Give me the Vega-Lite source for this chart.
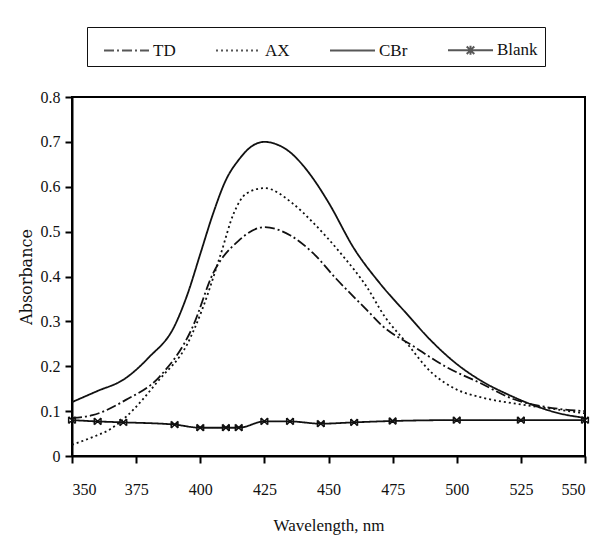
{
  "$schema": "https://vega.github.io/schema/vega-lite/v6.json",
  "width": 513,
  "height": 359,
  "autosize": {"type": "none"},
  "padding": {"left": 72, "top": 97, "right": 17, "bottom": 81},
  "background": "white",
  "config": {
    "font": "Liberation Serif",
    "view": {"stroke": "black", "strokeWidth": 2},
    "axis": {"grid": false, "ticks": true, "domainColor": "black", "domainWidth": 2, "tickColor": "black", "tickWidth": 2, "labelColor": "#111", "titleColor": "#111", "labelFont": "Liberation Serif", "titleFont": "Liberation Serif", "labelFontWeight": "normal", "titleFontWeight": "normal"},
    "legend": {"symbolSize": 900}
  },
  "data": {"values": [
    {"wavelength": 350, "absorbance": 0.12, "series": "CBr"},
    {"wavelength": 360, "absorbance": 0.145, "series": "CBr"},
    {"wavelength": 370, "absorbance": 0.17, "series": "CBr"},
    {"wavelength": 380, "absorbance": 0.22, "series": "CBr"},
    {"wavelength": 390, "absorbance": 0.29, "series": "CBr"},
    {"wavelength": 395, "absorbance": 0.36, "series": "CBr"},
    {"wavelength": 400, "absorbance": 0.45, "series": "CBr"},
    {"wavelength": 405, "absorbance": 0.54, "series": "CBr"},
    {"wavelength": 410, "absorbance": 0.615, "series": "CBr"},
    {"wavelength": 415, "absorbance": 0.66, "series": "CBr"},
    {"wavelength": 420, "absorbance": 0.69, "series": "CBr"},
    {"wavelength": 425, "absorbance": 0.70, "series": "CBr"},
    {"wavelength": 430, "absorbance": 0.694, "series": "CBr"},
    {"wavelength": 435, "absorbance": 0.677, "series": "CBr"},
    {"wavelength": 440, "absorbance": 0.648, "series": "CBr"},
    {"wavelength": 445, "absorbance": 0.61, "series": "CBr"},
    {"wavelength": 450, "absorbance": 0.565, "series": "CBr"},
    {"wavelength": 460, "absorbance": 0.462, "series": "CBr"},
    {"wavelength": 470, "absorbance": 0.385, "series": "CBr"},
    {"wavelength": 480, "absorbance": 0.32, "series": "CBr"},
    {"wavelength": 490, "absorbance": 0.257, "series": "CBr"},
    {"wavelength": 500, "absorbance": 0.205, "series": "CBr"},
    {"wavelength": 510, "absorbance": 0.166, "series": "CBr"},
    {"wavelength": 520, "absorbance": 0.137, "series": "CBr"},
    {"wavelength": 530, "absorbance": 0.113, "series": "CBr"},
    {"wavelength": 540, "absorbance": 0.095, "series": "CBr"},
    {"wavelength": 550, "absorbance": 0.085, "series": "CBr"},

    {"wavelength": 350, "absorbance": 0.025, "series": "AX"},
    {"wavelength": 358, "absorbance": 0.042, "series": "AX"},
    {"wavelength": 365, "absorbance": 0.06, "series": "AX"},
    {"wavelength": 371, "absorbance": 0.087, "series": "AX"},
    {"wavelength": 384, "absorbance": 0.17, "series": "AX"},
    {"wavelength": 395, "absorbance": 0.25, "series": "AX"},
    {"wavelength": 401, "absorbance": 0.33, "series": "AX"},
    {"wavelength": 408, "absorbance": 0.45, "series": "AX"},
    {"wavelength": 413, "absorbance": 0.54, "series": "AX"},
    {"wavelength": 418, "absorbance": 0.585, "series": "AX"},
    {"wavelength": 425, "absorbance": 0.597, "series": "AX"},
    {"wavelength": 436, "absorbance": 0.563, "series": "AX"},
    {"wavelength": 444, "absorbance": 0.52, "series": "AX"},
    {"wavelength": 455, "absorbance": 0.45, "series": "AX"},
    {"wavelength": 465, "absorbance": 0.376, "series": "AX"},
    {"wavelength": 472, "absorbance": 0.31, "series": "AX"},
    {"wavelength": 480, "absorbance": 0.255, "series": "AX"},
    {"wavelength": 490, "absorbance": 0.187, "series": "AX"},
    {"wavelength": 500, "absorbance": 0.148, "series": "AX"},
    {"wavelength": 510, "absorbance": 0.13, "series": "AX"},
    {"wavelength": 525, "absorbance": 0.115, "series": "AX"},
    {"wavelength": 540, "absorbance": 0.103, "series": "AX"},
    {"wavelength": 550, "absorbance": 0.095, "series": "AX"},

    {"wavelength": 350, "absorbance": 0.085, "series": "TD"},
    {"wavelength": 358, "absorbance": 0.091, "series": "TD"},
    {"wavelength": 371, "absorbance": 0.125, "series": "TD"},
    {"wavelength": 384, "absorbance": 0.176, "series": "TD"},
    {"wavelength": 397, "absorbance": 0.287, "series": "TD"},
    {"wavelength": 405, "absorbance": 0.407, "series": "TD"},
    {"wavelength": 415, "absorbance": 0.48, "series": "TD"},
    {"wavelength": 425, "absorbance": 0.51, "series": "TD"},
    {"wavelength": 435, "absorbance": 0.492, "series": "TD"},
    {"wavelength": 444, "absorbance": 0.452, "series": "TD"},
    {"wavelength": 453, "absorbance": 0.395, "series": "TD"},
    {"wavelength": 465, "absorbance": 0.325, "series": "TD"},
    {"wavelength": 471, "absorbance": 0.29, "series": "TD"},
    {"wavelength": 483, "absorbance": 0.245, "series": "TD"},
    {"wavelength": 496, "absorbance": 0.198, "series": "TD"},
    {"wavelength": 509, "absorbance": 0.163, "series": "TD"},
    {"wavelength": 522, "absorbance": 0.127, "series": "TD"},
    {"wavelength": 535, "absorbance": 0.109, "series": "TD"},
    {"wavelength": 550, "absorbance": 0.1, "series": "TD"},

    {"wavelength": 350, "absorbance": 0.08, "series": "Blank"},
    {"wavelength": 360, "absorbance": 0.077, "series": "Blank"},
    {"wavelength": 370, "absorbance": 0.075, "series": "Blank"},
    {"wavelength": 390, "absorbance": 0.07, "series": "Blank"},
    {"wavelength": 400, "absorbance": 0.063, "series": "Blank"},
    {"wavelength": 410, "absorbance": 0.063, "series": "Blank"},
    {"wavelength": 415, "absorbance": 0.063, "series": "Blank"},
    {"wavelength": 425, "absorbance": 0.077, "series": "Blank"},
    {"wavelength": 435, "absorbance": 0.077, "series": "Blank"},
    {"wavelength": 447, "absorbance": 0.072, "series": "Blank"},
    {"wavelength": 460, "absorbance": 0.075, "series": "Blank"},
    {"wavelength": 475, "absorbance": 0.078, "series": "Blank"},
    {"wavelength": 500, "absorbance": 0.08, "series": "Blank"},
    {"wavelength": 525, "absorbance": 0.08, "series": "Blank"},
    {"wavelength": 550, "absorbance": 0.08, "series": "Blank"}
  ]},
  "encoding": {
    "x": {"field": "wavelength", "type": "quantitative", "scale": {"domain": [350, 550], "nice": false, "zero": false},
      "axis": {"values": [350, 375, 400, 425, 450, 475, 500, 525, 550], "title": "Wavelength, nm", "labelFontSize": 16, "titleFontSize": 17, "labelPadding": 18, "titlePadding": 20, "tickSize": 7}},
    "y": {"field": "absorbance", "type": "quantitative", "scale": {"domain": [0, 0.8], "nice": false},
      "axis": {"values": [0, 0.1, 0.2, 0.3, 0.4, 0.5, 0.6, 0.7, 0.8], "labelExpr": "datum.value == 0 ? '0' : format(datum.value, '.1f')", "title": "Absorbance", "titleFont": "DejaVu Serif", "labelFontSize": 16, "titleFontSize": 16, "labelPadding": 5, "titlePadding": 6, "tickSize": 7}}
  },
  "layer": [
    {
      "mark": {"type": "line", "interpolate": "monotone", "color": "#111", "strokeWidth": 1.8},
      "encoding": {
        "detail": {"field": "series"},
        "strokeDash": {"field": "series", "type": "nominal",
          "scale": {"domain": ["TD", "AX", "CBr", "Blank"], "range": [[10, 3, 2, 3], [2, 3], [1, 0], [1, 0]]},
          "legend": {"title": null, "orient": "none", "legendX": 15, "legendY": -70, "direction": "horizontal", "columns": 4,
            "strokeColor": "#111", "padding": 7, "columnPadding": 30, "symbolType": "M-0.4,0L2.6,0",
            "symbolStrokeColor": "#111", "symbolStrokeWidth": 2, "symbolSize": 900, "labelFontSize": 17, "labelFont": "Liberation Serif", "labelFontWeight": "normal", "labelColor": "#111", "labelOffset": 27}}
      }
    },
    {
      "transform": [{"filter": "false"}],
      "mark": {"type": "point", "filled": false, "color": "#111", "strokeWidth": 2},
      "encoding": {
        "shape": {"field": "series", "type": "nominal",
          "scale": {"domain": ["TD", "AX", "CBr", "Blank"], "range": ["M-0.4,0L2.6,0", "M-0.4,0L2.6,0", "M-0.4,0L2.6,0", "M-0.4,0L2.6,0M1.1,-0.3L1.1,0.3M0.85,-0.25L1.35,0.25M0.85,0.25L1.35,-0.25"]},
          "legend": {"title": null, "orient": "none", "legendX": 15, "legendY": -70, "direction": "horizontal", "columns": 4,
            "strokeColor": "#111", "padding": 7, "columnPadding": 30,
            "symbolStrokeColor": "#111", "symbolStrokeWidth": 2, "symbolSize": 900, "labelFontSize": 17, "labelFont": "Liberation Serif", "labelFontWeight": "normal", "labelColor": "#111", "labelOffset": 27}}
      }
    },
    {
      "transform": [{"filter": "datum.series == 'Blank'"}],
      "mark": {"type": "point", "shape": "M-1,-1L1,1M-1,1L1,-1M-1,-1L-1,1M1,-1L1,1", "filled": false, "color": "#111", "strokeWidth": 1.5, "size": 45, "opacity": 1}
    }
  ]
}
